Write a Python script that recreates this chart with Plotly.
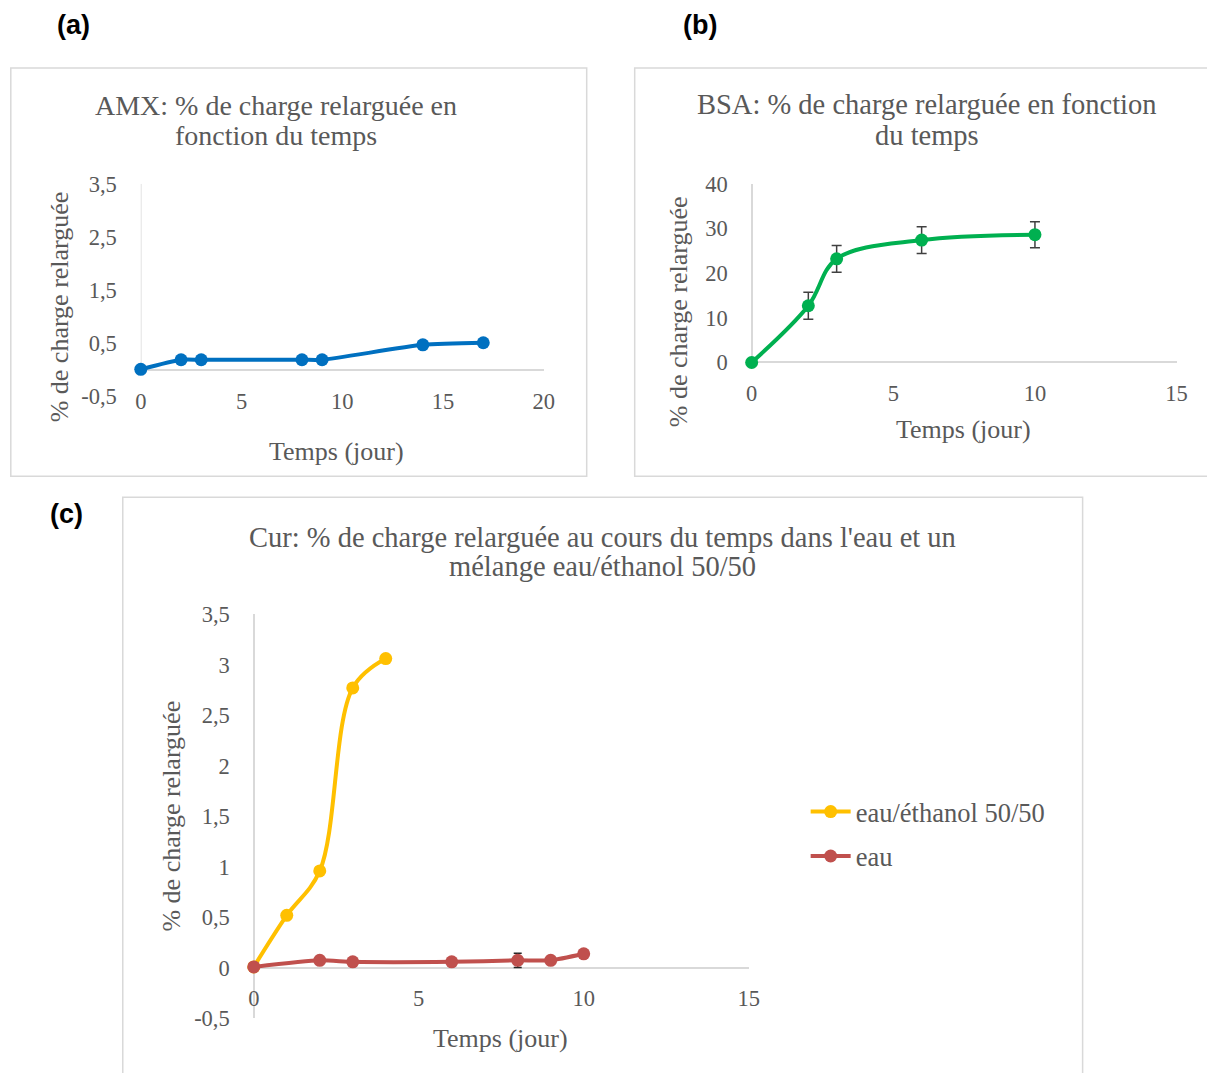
import plotly.graph_objects as go

# ---------- data ----------
amx_t = [0, 2, 3, 8, 9, 14, 17]
amx_y = [0.01, 0.19, 0.19, 0.19, 0.19, 0.47, 0.51]

bsa_t = [0, 2, 3, 6, 10]
bsa_y = [0.0, 12.7, 23.2, 27.4, 28.6]
bsa_err = [0.0, 3.0, 3.0, 3.0, 2.9]

cur_eth_t = [0, 1, 2, 3, 4]
cur_eth_y = [0.01, 0.52, 0.96, 2.77, 3.06]
cur_eth_err = [0.0, 0.02, 0.03, 0.03, 0.0]

cur_eau_t = [0, 2, 3, 6, 8, 9, 10]
cur_eau_y = [0.01, 0.075, 0.06, 0.06, 0.075, 0.075, 0.14]
cur_eau_err = [0.0, 0.03, 0.02, 0.01, 0.07, 0.02, 0.03]

ytick_a = [-0.5, 0.5, 1.5, 2.5, 3.5]
ytick_b = [0, 10, 20, 30, 40]
ytick_c = [-0.5, 0, 0.5, 1, 1.5, 2, 2.5, 3, 3.5]
xtick_a = [0, 5, 10, 15, 20]
xtick_bc = [0, 5, 10, 15]


def fmt(v):
    return f"{v:g}".replace(".", ",")


W, H = 1199, 1065
SX, OX = 0.986, 14.2
SY, OY = 0.978, 20.0
SERIF = "Liberation Serif"
GREY = "#595959"
AX = "#D9D9D9"


def px(v):
    return ((v - OX) / SX) / W


def py(v):
    return 1 - ((v - OY) / SY) / H


fig = go.Figure()

fig.add_trace(go.Scatter(x=amx_t, y=amx_y, mode="lines+markers", xaxis="x", yaxis="y",
                         line=dict(color="#0070C0", width=4, shape="spline", smoothing=0.6),
                         marker=dict(size=13, color="#0070C0"), showlegend=False,
                         cliponaxis=False))

fig.add_trace(go.Scatter(x=bsa_t, y=bsa_y, mode="lines+markers", xaxis="x2", yaxis="y2",
                         line=dict(color="#00B050", width=4, shape="spline", smoothing=1),
                         marker=dict(size=13, color="#00B050"),
                         error_y=dict(type="data", array=bsa_err, visible=True, color="#404040",
                                      thickness=1.5, width=5),
                         showlegend=False, cliponaxis=False))

fig.add_trace(go.Scatter(x=cur_eth_t, y=cur_eth_y, mode="lines+markers", xaxis="x3", yaxis="y3",
                         name="eau/éthanol 50/50", legendgroup="g1",
                         line=dict(color="#FFC000", width=4, shape="spline", smoothing=1),
                         marker=dict(size=13, color="#FFC000"),
                         error_y=dict(type="data", array=cur_eth_err, visible=True, color="#262626",
                                      thickness=1.5, width=4),
                         cliponaxis=False))

fig.add_trace(go.Scatter(x=cur_eau_t, y=cur_eau_y, mode="lines+markers", xaxis="x3", yaxis="y3",
                         name="eau", legendgroup="g2",
                         line=dict(color="#C0504D", width=4, shape="spline", smoothing=0.6),
                         marker=dict(size=13, color="#C0504D"),
                         error_y=dict(type="data", array=cur_eau_err, visible=True, color="#262626",
                                      thickness=1.5, width=4),
                         cliponaxis=False))

tickfont = dict(family=SERIF, size=22.5, color=GREY)


def xax(dom, rng, tv, pos, zl=True):
    return dict(domain=dom, range=rng, tickvals=tv, ticktext=[fmt(v) for v in tv],
                showgrid=False, showline=False,
                zeroline=zl, zerolinecolor=AX, zerolinewidth=1.5, ticks="",
                tickfont=tickfont, anchor="free", position=pos, fixedrange=True)


def yax(dom, rng, tv, anchor):
    return dict(domain=dom, range=rng, tickvals=tv, ticktext=[fmt(v) for v in tv],
                showgrid=False, showline=False,
                zeroline=True, zerolinecolor=AX, zerolinewidth=1.5, ticks="",
                tickfont=tickfont, anchor=anchor, ticklabelstandoff=23, fixedrange=True)


fig.update_layout(
    xaxis=xax([px(141), px(544)], [0, 20], xtick_a, py(386), zl=False),
    yaxis=yax([py(397), py(184)], [-0.5, 3.5], ytick_a, "x"),
    xaxis2=xax([px(752), px(1177)], [0, 15], xtick_bc, py(378)),
    yaxis2=yax([py(363), py(184)], [0, 40], ytick_b, "x2"),
    xaxis3=xax([px(254), px(749)], [0, 15], xtick_bc, py(984)),
    yaxis3=yax([py(1020), py(615)], [-0.5, 3.5], ytick_c, "x3"),
)

shapes = [
    # panel borders
    dict(type="rect", xref="paper", yref="paper", x0=px(11), x1=px(587), y0=py(477), y1=py(68),
         line=dict(color=AX, width=1.5)),
    dict(type="rect", xref="paper", yref="paper", x0=px(635), x1=px(1260), y0=py(477), y1=py(68),
         line=dict(color=AX, width=1.5)),
    dict(type="rect", xref="paper", yref="paper", x0=px(123), x1=px(1083), y0=py(1120), y1=py(498),
         line=dict(color=AX, width=1.5)),
    # vertical axis line for (a) from 0 to top
    dict(type="line", xref="x", yref="y", x0=0, x1=0, y0=0, y1=3.5, line=dict(color=AX, width=1.5),
         layer="below"),
]

ann = []


def text(x, y, s, size, color=GREY, family=SERIF, angle=0):
    ann.append(dict(x=px(x), y=py(y), xref="paper", yref="paper", text=s, showarrow=False,
                    xanchor="center", yanchor="middle", textangle=angle,
                    font=dict(family=family, size=size, color=color)))


# panel labels
text(74, 25, "<b>(a)</b>", 27, color="#000000", family="Liberation Sans")
text(700, 25, "<b>(b)</b>", 27, color="#000000", family="Liberation Sans")
text(67, 515, "<b>(c)</b>", 27, color="#000000", family="Liberation Sans")

# titles (one annotation per line)
TS = 28.5
text(276, 106, "AMX: % de charge relarguée en", 28)
text(276, 136, "fonction du temps", 28)
text(927, 105, "BSA: % de charge relarguée en fonction", TS)
text(927, 136, "du temps", TS)
text(603, 538, "Cur: % de charge relarguée au cours du temps dans l'eau et un", TS)
text(603, 567, "mélange eau/éthanol 50/50", TS)

# axis titles
AS = 26
text(337, 452, "Temps (jour)", AS)
text(964, 430, "Temps (jour)", AS)
text(501, 1040, "Temps (jour)", AS)
text(60, 307, "% de charge relarguée", AS, angle=-90)
text(679, 312, "% de charge relarguée", AS, angle=-90)
text(172, 817, "% de charge relarguée", AS, angle=-90)

fig.update_layout(
    width=W, height=H, margin=dict(l=0, r=0, t=0, b=0),
    paper_bgcolor="white", plot_bgcolor="white",
    shapes=shapes, annotations=ann,
    showlegend=True,
    legend=dict(x=px(806), y=py(789), xanchor="left", yanchor="top",
                font=dict(family=SERIF, size=26.5, color=GREY),
                tracegroupgap=7, bgcolor="rgba(0,0,0,0)", itemwidth=40),
)

fig.write_html("out.html")
